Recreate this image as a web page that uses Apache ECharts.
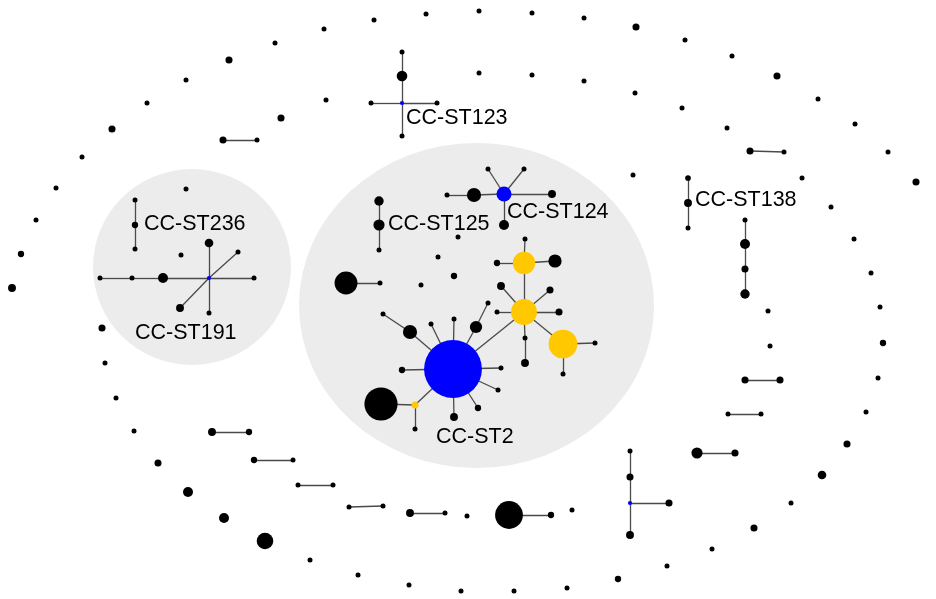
<!DOCTYPE html>
<html><head><meta charset="utf-8">
<script src="https://cdn.jsdelivr.net/npm/echarts@6/dist/echarts.min.js"></script>
<style>html,body{margin:0;padding:0;background:#fff}#c{width:936px;height:599px}</style>
</head><body><div id="c"></div>
<script>
// Clonal complex background groups: [centerX, centerY, spanX, spanY]
const groups = [
  [192, 267, 198, 196],
  [476.5, 305.5, 355, 325]
];
// Nodes: [id, x, y, isolate count, type]  type: k=black, b=blue, y=yellow
const nodes = [
  // outer ring singletons
  ['o1',426,14,1,'k'],['o2',374,20,1,'k'],['o3',324,29,1,'k'],['o4',275,43,1,'k'],['o5',229,60,2,'k'],
  ['o6',186,80,1,'k'],['o7',147,103,1,'k'],['o8',112,129,2,'k'],['o9',82,157,1,'k'],['o10',56,188,1,'k'],
  ['o11',36,220,1,'k'],['o12',21,254,1.6,'k'],['o13',12,288,2.5,'k'],['o14',102,328,2,'k'],['o15',105,363,1,'k'],
  ['o16',116,398,1,'k'],['o17',134,431,1,'k'],['o18',158,463,2,'k'],['o19',188,492,4,'k'],['o20',224,518,4,'k'],
  ['o21',265,541,11,'k'],['o22',310,560,1,'k'],['o23',358,575,1,'k'],['o24',409,585,1,'k'],['o25',461,591,1,'k'],
  ['o26',514,591,1,'k'],['o27',567,588,1,'k'],['o28',618,579,1.6,'k'],['o29',667,566,1,'k'],['o30',712,549,1,'k'],
  ['o31',754,528,2,'k'],['o32',791,503,1,'k'],['o33',822,475,3,'k'],['o34',847,444,2,'k'],['o35',866,412,1,'k'],
  ['o36',878,378,1,'k'],['o37',883,343,1.6,'k'],['o38',880,307,1,'k'],['o39',871,273,1,'k'],['o40',854,239,1,'k'],
  ['o41',831,207,1,'k'],['o42',916,182,2,'k'],['o43',888,152,1,'k'],['o44',855,124,1,'k'],['o45',818,99,1,'k'],
  ['o46',777,76,2,'k'],['o47',732,56,1,'k'],['o48',685,40,1,'k'],['o49',636,27,2,'k'],['o50',584,18,1,'k'],
  ['o51',532,13,1,'k'],['o52',479,11,1,'k'],
  // inner singletons
  ['i1',326,100,1,'k'],['i2',281,118,2,'k'],['i3',479,73,1,'k'],['i4',532,75,1,'k'],['i5',584,81,1,'k'],
  ['i6',635,93,1,'k'],['i7',682,108,1,'k'],['i8',727,128,1,'k'],['i9',802,178,1,'k'],['i10',768,311,1,'k'],
  ['i11',770,346,1,'k'],['i12',633,175,1,'k'],['i13',186,189,1,'k'],['i14',181,255,1,'k'],['i15',458,237,1,'k'],
  ['i16',438,257,1,'k'],['i17',454,276,1.6,'k'],['i18',421,285,1,'k'],['i19',467,516,1,'k'],['i20',572,510,1,'k'],
  // pairs
  ['p1a',223,140,2,'k'],['p1b',257,140,1,'k'],
  ['p2a',750,151,2,'k'],['p2b',784,152,1,'k'],
  ['p3a',745,380,2,'k'],['p3b',780,380,2,'k'],
  ['p4a',728,414,1,'k'],['p4b',761,414,1,'k'],
  ['p5a',697,453,5,'k'],['p5b',735,453,2,'k'],
  ['p6a',509,515,31,'k'],['p6b',551,515,1.6,'k'],
  ['p7a',212,432,2.5,'k'],['p7b',249,432,1.6,'k'],
  ['p8a',254,460,1.6,'k'],['p8b',293,460,1,'k'],
  ['p9a',298,485,1,'k'],['p9b',333,485,1,'k'],
  ['p10a',349,507,1,'k'],['p10b',383,506,1,'k'],
  ['p11a',410,513,2.5,'k'],['p11b',445,513,1,'k'],
  ['z1',346,283,21,'k'],['z2',380,283,1,'k'],
  // CC-ST138 chain
  ['a1',688,178,1.3,'k'],['a2',688,203,2.5,'k'],['a3',688,228,1,'k'],
  ['c1',745,220,1,'k'],['c2',745,244,4,'k'],['c3',745,269,2,'k'],['c4',745,294,3.5,'k'],
  // lower T
  ['t0',630,503,0.7,'b'],['t1',630,477,2,'k'],['t2',630,451,1,'k'],['t3',630,535,2.5,'k'],['t4',669,503,2,'k'],
  // CC-ST123
  ['u0',402,103,0.7,'b'],['u1',402,52,1,'k'],['u2',402,76,4.5,'k'],['u3',371,103,1,'k'],['u4',437,103,1,'k'],['u5',402,136,1,'k'],
  // CC-ST236
  ['v1',135,200,1,'k'],['v2',135,225,1.6,'k'],['v3',135,249,1,'k'],
  // CC-ST191
  ['w0',209,278,0.7,'b'],['w1',100,278,1,'k'],['w2',132,278,1,'k'],['w3',163,278,4,'k'],['w4',254,278,1,'k'],
  ['w5',209,243,3,'k'],['w6',238,252,1,'k'],['w7',180,308,2.5,'k'],['w8',209,313,1,'k'],
  // CC-ST125
  ['x1',379,201,3.5,'k'],['x2',379,225,5,'k'],['x3',379,250,1,'k'],
  // CC-ST124
  ['y0',504,194,9,'b'],['y1',474,195,8,'k'],['y2',447,195,1,'k'],['y3',552,194,2.5,'k'],
  ['y4',488,169,1,'k'],['y5',524,169,1,'k'],['y6',504,225,4,'k'],
  // CC-ST2
  ['s0',453,369,134,'b'],['s1',410,332,8,'k'],['s2',383,314,1,'k'],['s3',431,324,1,'k'],['s4',454,319,1,'k'],
  ['s5',476,327,6,'k'],['s6',488,303,1,'k'],['s7',501,368,1,'k'],['s8',498,390,1,'k'],['s9',478,408,1.6,'k'],
  ['s10',454,417,2.5,'k'],['s11',402,370,1.6,'k'],['s12',415,405,2,'y'],['s13',381,404,44,'k'],['s14',415,429,1,'k'],
  ['s15',524,312,27,'y'],['s16',524,263,20,'y'],['s17',525,239,1,'k'],['s18',497,263,1.6,'k'],['s19',555,261,7,'k'],
  ['s20',501,286,2.5,'k'],['s21',550,290,2,'k'],['s22',497,312,1,'k'],['s23',559,312,2,'k'],['s24',525,338,1,'k'],
  ['s25',525,363,2.5,'k'],['s26',563,344,33,'y'],['s27',595,343,1,'k'],['s28',563,374,1,'k']
];
const edges = [
  ['p1a','p1b'],['p2a','p2b'],['p3a','p3b'],['p4a','p4b'],['p5a','p5b'],['p6a','p6b'],
  ['p7a','p7b'],['p8a','p8b'],['p9a','p9b'],['p10a','p10b'],['p11a','p11b'],['z1','z2'],
  ['a1','a2'],['a2','a3'],['c1','c2'],['c2','c3'],['c3','c4'],
  ['t0','t1'],['t1','t2'],['t0','t3'],['t0','t4'],
  ['u0','u2'],['u2','u1'],['u0','u3'],['u0','u4'],['u0','u5'],
  ['v1','v2'],['v2','v3'],
  ['w0','w3'],['w3','w2'],['w2','w1'],['w0','w4'],['w0','w5'],['w0','w6'],['w0','w7'],['w0','w8'],
  ['x1','x2'],['x2','x3'],
  ['y0','y1'],['y1','y2'],['y0','y3'],['y0','y4'],['y0','y5'],['y0','y6'],
  ['s0','s1'],['s1','s2'],['s0','s3'],['s0','s4'],['s0','s5'],['s5','s6'],['s0','s7'],['s0','s8'],
  ['s0','s9'],['s0','s10'],['s0','s11'],['s0','s12'],['s12','s13'],['s12','s14'],['s0','s15'],
  ['s15','s16'],['s16','s17'],['s16','s18'],['s16','s19'],['s15','s20'],['s15','s21'],['s15','s22'],
  ['s15','s23'],['s15','s24'],['s24','s25'],['s15','s26'],['s26','s27'],['s26','s28']
];
// Clonal complex labels: [text, x, y]
const labels = [
  ['CC-ST123',406,118],['CC-ST236',144,224],['CC-ST125',388,224],['CC-ST124',507,212],
  ['CC-ST138',695,200],['CC-ST191',135,333],['CC-ST2',436,437]
];

const typeColor = {k:'#000000', b:'#0000ff', y:'#ffc800'};
const chart = echarts.init(document.getElementById('c'));
chart.setOption({
  animation:false,
  backgroundColor:'#ffffff',
  grid:{left:0,right:0,top:0,bottom:0},
  xAxis:{type:'value',min:0,max:936,show:false},
  yAxis:{type:'value',min:0,max:599,inverse:true,show:false},
  series:[
    {
      type:'scatter', silent:true, z:1,
      data: groups.map(g=>({value:[g[0],g[1]], symbolSize:[g[2],g[3]]})),
      itemStyle:{color:'#ececec', opacity:1}
    },
    {
      type:'graph', coordinateSystem:'cartesian2d', layout:'none', z:2, silent:true,
      symbol:'circle',
      data: nodes.map(n=>({name:n[0], value:[n[1],n[2]], symbolSize: 5*Math.sqrt(n[3]),
        itemStyle:{color:typeColor[n[4]], opacity:1}})),
      links: edges.map(e=>({source:e[0], target:e[1]})),
      lineStyle:{color:'#4a4a4a', width:1.3, opacity:1, curveness:0},
      label:{show:false},
      emphasis:{disabled:true}
    },
    {
      type:'scatter', silent:true, z:3,
      symbolSize:0,
      itemStyle:{opacity:1, color:'rgba(0,0,0,0)'},
      data: labels.map(l=>({value:[l[1],l[2]], name:l[0]})),
      label:{show:true, position:'right', distance:0, formatter:p=>p.name, opacity:1,
        fontFamily:'"Liberation Sans", Arial, sans-serif', fontSize:21.5, color:'#000000'}
    }
  ]
});
</script></body></html>
